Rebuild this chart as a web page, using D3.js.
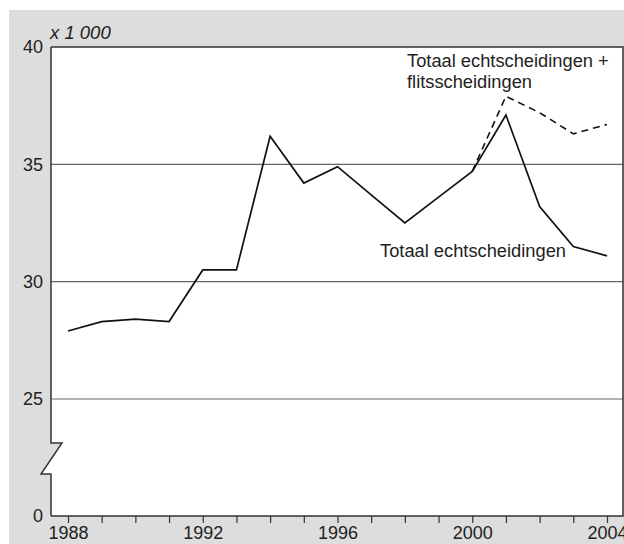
<!DOCTYPE html>
<html>
<head>
<meta charset="utf-8">
<script src="https://cdn.jsdelivr.net/npm/d3@7"></script>
<style>
  body { margin: 0; background: #fff; }
  svg { display: block; font-family: "Liberation Sans", Arial, sans-serif; }
</style>
</head>
<body>
<div id="vis"></div>
<script>
// data (x 1 000)
var years = [1988, 1989, 1990, 1991, 1992, 1993, 1994, 1995, 1996, 1997, 1998, 1999, 2000, 2001, 2002, 2003, 2004];
var totaal = [27.9, 28.3, 28.4, 28.3, 30.5, 30.5, 36.2, 34.2, 34.9, 33.7, 32.5, 33.6, 34.7, 37.1, 33.2, 31.5, 31.1];
var flitsYears = [2000, 2001, 2002, 2003, 2004];
var flitsTotaal = [34.7, 37.9, 37.2, 36.3, 36.7];
var yTicks = [0, 25, 30, 35, 40];
var xLabels = [1988, 1992, 1996, 2000, 2004];

// plot box (window.top is reserved, so use a margin object)
var W = 624, H = 544;
var box = {left: 51, right: 623, top: 47, bottom: 516};

var svg = d3.select("#vis").append("svg")
	.attr("width", W)
	.attr("height", H);

// grey backdrop
svg.append("rect")
	.attr("x", 9).attr("y", 10)
	.attr("width", W - 9).attr("height", H - 10)
	.attr("fill", "#dddddd");

var x = d3.scaleLinear()
	.domain([1988, 2004])
	.range([68, 607]);

// broken axis: 0 sits below 25
var y = d3.scaleLinear()
	.domain([0, 25, 40])
	.range([box.bottom, 399, box.top]);

// plot area with the axis break notch
var b1 = 443, b2 = 474;
var areaPath = "M" + box.left + "," + box.top +
	"H" + box.right + "V" + box.bottom + "H" + box.left +
	"V" + b2 + "H" + (box.left - 10) + "L" + (box.left + 11) + "," + b1 + "H" + box.left + "Z";
svg.append("path")
	.attr("d", areaPath)
	.attr("fill", "#ffffff");

// gridlines
svg.append("g")
	.selectAll("line")
	.data([25, 30, 35])
	.enter()
	.append("line")
	.attr("x1", box.left).attr("x2", box.right)
	.attr("y1", function(d) { return y(d); })
	.attr("y2", function(d) { return y(d); })
	.attr("stroke", "#666")
	.attr("stroke-width", 1.2);

// frame: top + right + bottom
svg.append("path")
	.attr("d", "M" + box.left + "," + box.top + "H" + box.right + "V" + box.bottom + "H" + box.left)
	.attr("fill", "none")
	.attr("stroke", "#333")
	.attr("stroke-width", 1.5);

// left axis with break
svg.append("path")
	.attr("d", "M" + box.left + "," + box.top + "V" + b1 + "H" + (box.left + 11) +
		"L" + (box.left - 10) + "," + b2 + "H" + box.left + "V" + box.bottom)
	.attr("fill", "none")
	.attr("stroke", "#333")
	.attr("stroke-width", 1.5);

// x axis ticks + labels
var xAxis = d3.axisBottom(x)
	.tickValues(years)
	.tickSize(7)
	.tickPadding(3)
	.tickFormat(function(d) { return xLabels.indexOf(d) >= 0 ? d : ""; });

var gx = svg.append("g")
	.attr("transform", "translate(0," + box.bottom + ")")
	.call(xAxis);
gx.select(".domain").remove();
gx.selectAll("line").attr("stroke", "#333").attr("stroke-width", 1.2);
gx.selectAll("text")
	.attr("font-size", 18)
	.attr("fill", "#222")
	.attr("font-family", "Liberation Sans, Arial, sans-serif");

// y axis labels
var gy = svg.append("g")
	.attr("transform", "translate(" + box.left + ",0)")
	.call(d3.axisLeft(y).tickValues(yTicks).tickSize(0).tickPadding(8));
gy.select(".domain").remove();
gy.selectAll("text")
	.attr("font-size", 18)
	.attr("fill", "#222")
	.attr("font-family", "Liberation Sans, Arial, sans-serif");

// unit
svg.append("text")
	.attr("x", 50).attr("y", 39)
	.attr("font-size", 18.5)
	.attr("font-style", "italic")
	.attr("fill", "#222")
	.text("x 1 000");

// lines
var line = d3.line()
	.x(function(d) { return x(d[0]); })
	.y(function(d) { return y(d[1]); });

svg.append("path")
	.datum(flitsYears.map(function(d, i) { return [d, flitsTotaal[i]]; }))
	.attr("d", line)
	.attr("fill", "none")
	.attr("stroke", "#111")
	.attr("stroke-width", 1.6)
	.attr("stroke-dasharray", "7,5");

svg.append("path")
	.datum(years.map(function(d, i) { return [d, totaal[i]]; }))
	.attr("d", line)
	.attr("fill", "none")
	.attr("stroke", "#111")
	.attr("stroke-width", 1.7)
	.attr("stroke-linejoin", "miter");

// labels
var ann = svg.append("text")
	.attr("font-size", 18.3)
	.attr("fill", "#222");
ann.append("tspan").attr("x", 407).attr("y", 67).text("Totaal echtscheidingen +");
ann.append("tspan").attr("x", 407).attr("y", 88).text("flitsscheidingen");

svg.append("text")
	.attr("x", 380).attr("y", 257)
	.attr("font-size", 18.3)
	.attr("fill", "#222")
	.text("Totaal echtscheidingen");
</script>
</body>
</html>
